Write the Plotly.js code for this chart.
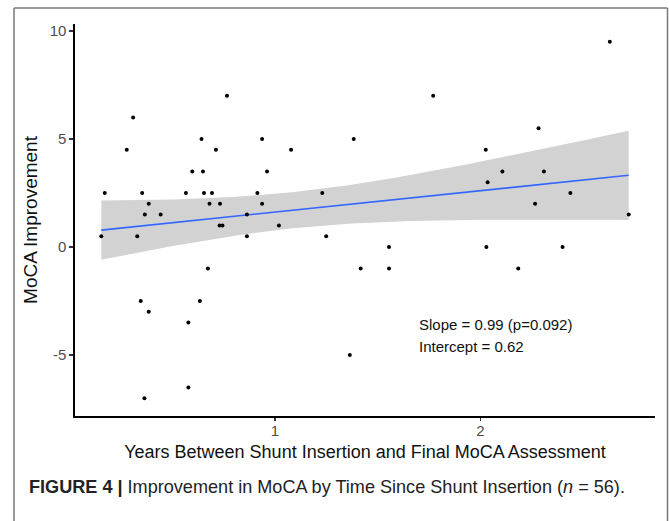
<!DOCTYPE html>
<html>
<head>
<meta charset="utf-8">
<script src="https://cdn.plot.ly/plotly-3.0.1.min.js"></script>
<style>
html,body{margin:0;padding:0;background:#fff;}
#chart{width:669px;height:521px;}
</style>
</head>
<body>
<div id="chart"></div>
<script>
// Years between shunt insertion and final MoCA assessment
var years = [
  0.171, 0.309, 0.278, 0.353, 0.385, 0.566, 0.597, 0.642, 0.649, 0.654,
  0.693, 0.681, 0.732, 0.712, 0.766, 0.914,
  0.366, 0.443, 0.154, 0.329, 0.730, 0.744, 0.863, 0.863, 0.673, 0.346,
  0.634, 0.385, 0.578, 0.578, 0.364,
  1.770, 0.937, 1.383, 1.078, 0.961, 1.230, 0.937,
  1.019, 1.249, 1.555, 1.417, 1.555, 1.364,
  2.630, 2.283, 2.026, 2.107, 2.309, 2.035, 2.438, 2.266,
  2.722, 2.029, 2.400, 2.184
];
// MoCA improvement
var moca = [
  2.5, 6, 4.5, 2.5, 2, 2.5, 3.5, 5, 3.5, 2.5,
  2.5, 2, 2, 4.5, 7, 2.5,
  1.5, 1.5, 0.5, 0.5, 1, 1, 1.5, 0.5, -1, -2.5,
  -2.5, -3, -3.5, -6.5, -7,
  7, 5, 5, 4.5, 3.5, 2.5, 2,
  1, 0.5, 0, -1, -1, -5,
  9.5, 5.5, 4.5, 3.5, 3.5, 3, 2.5, 2,
  1.5, 0, 0, -1
];
var yTicks = [-5, 0, 5, 10];
var xTicks = [1, 2];
var slopeText = "Slope = 0.99 (p=0.092)";
var interceptText = "Intercept = 0.62";
var xTitle = "Years Between Shunt Insertion and Final MoCA Assessment";
var yTitle = "MoCA Improvement";
var caption = "<b>FIGURE 4 |</b> Improvement in MoCA by Time Since Shunt Insertion (<i>n</i> = 56).";

// linear fit with 95% confidence band (computed from the data)
var n = years.length;
var xm = years.reduce(function(a,b){return a+b;},0)/n;
var ym = moca.reduce(function(a,b){return a+b;},0)/n;
var sxx = 0, sxy = 0;
for (var i=0;i<n;i++){ sxx += (years[i]-xm)*(years[i]-xm); sxy += (years[i]-xm)*(moca[i]-ym); }
var b1 = sxy/sxx, b0 = ym - b1*xm;
var sse = 0;
for (var i=0;i<n;i++){ var r = moca[i]-(b0+b1*years[i]); sse += r*r; }
var s = Math.sqrt(sse/(n-2));
var tq = 2.0049;
var xmin = Math.min.apply(null, years), xmax = Math.max.apply(null, years);
var gx = [], gy = [], lo = [], hi = [];
for (var k=0;k<=80;k++){
  var x = xmin + (xmax-xmin)*k/80;
  var f = b0 + b1*x;
  var se = s*Math.sqrt(1/n + (x-xm)*(x-xm)/sxx);
  gx.push(x); gy.push(f); lo.push(f - tq*se); hi.push(f + tq*se);
}

var traces = [
  {x: gx, y: lo, mode: 'lines', line: {width: 0, color: 'rgba(0,0,0,0)'}, hoverinfo: 'skip', showlegend: false},
  {x: gx, y: hi, mode: 'lines', fill: 'tonexty', fillcolor: '#d2d2d2', line: {width: 0, color: 'rgba(0,0,0,0)'}, hoverinfo: 'skip', showlegend: false},
  {x: gx, y: gy, mode: 'lines', line: {color: '#3366ff', width: 1.6}, showlegend: false},
  {x: years, y: moca, mode: 'markers', marker: {color: '#000', size: 4}, showlegend: false}
];

var layout = {
  width: 669, height: 521,
  margin: {l: 75, r: 14, t: 24, b: 105},
  paper_bgcolor: '#fff', plot_bgcolor: '#fff',
  font: {family: 'Liberation Sans, Arial, sans-serif', color: '#000'},
  xaxis: {
    range: [0.026, 2.85], tickvals: xTicks, ticktext: xTicks.map(String),
    showgrid: false, zeroline: false, showline: true, linecolor: '#000', linewidth: 1.6,
    ticks: 'outside', ticklen: 3, tickcolor: '#333', tickwidth: 1.2,
    ticklabelstandoff: -3,
    tickfont: {size: 15, color: '#4d4d4d'},
    title: {text: xTitle, font: {size: 18, color: '#111'}, standoff: 8}
  },
  yaxis: {
    range: [-7.825, 10.325], tickvals: yTicks, ticktext: yTicks.map(String),
    showgrid: false, zeroline: false, showline: true, linecolor: '#000', linewidth: 1.6,
    ticks: 'outside', ticklen: 4, tickcolor: '#333', tickwidth: 1.2,
    tickfont: {size: 15, color: '#4d4d4d'},
    title: {text: yTitle, font: {size: 19, color: '#111'}, standoff: 7}
  },
  annotations: [
    {x: 1.69, y: -3.6, xref: 'x', yref: 'y', text: slopeText, showarrow: false, xanchor: 'left', yanchor: 'middle', font: {size: 15, color: '#111'}},
    {x: 1.69, y: -4.6, xref: 'x', yref: 'y', text: interceptText, showarrow: false, xanchor: 'left', yanchor: 'middle', font: {size: 15, color: '#111'}},
    {x: (27-75)/580, y: (416-487)/392, xref: 'paper', yref: 'paper', text: caption, showarrow: false, xanchor: 'left', yanchor: 'middle', font: {size: 18.1, color: '#222'}}
  ],
  shapes: [
    {type: 'line', xref: 'paper', yref: 'paper', x0: (14-75)/580, x1: (14-75)/580, y0: (416-8)/392, y1: (416-540)/392, line: {color: '#777', width: 1.5}},
    {type: 'line', xref: 'paper', yref: 'paper', x0: (14-75)/580, x1: (667.5-75)/580, y0: (416-8)/392, y1: (416-8)/392, line: {color: '#777', width: 1.5}},
    {type: 'line', xref: 'paper', yref: 'paper', x0: (667.5-75)/580, x1: (667.5-75)/580, y0: (416-8)/392, y1: (416-540)/392, line: {color: '#777', width: 1.5}}
  ]
};

Plotly.newPlot('chart', traces, layout, {displayModeBar: false, staticPlot: true});
</script>
</body>
</html>
